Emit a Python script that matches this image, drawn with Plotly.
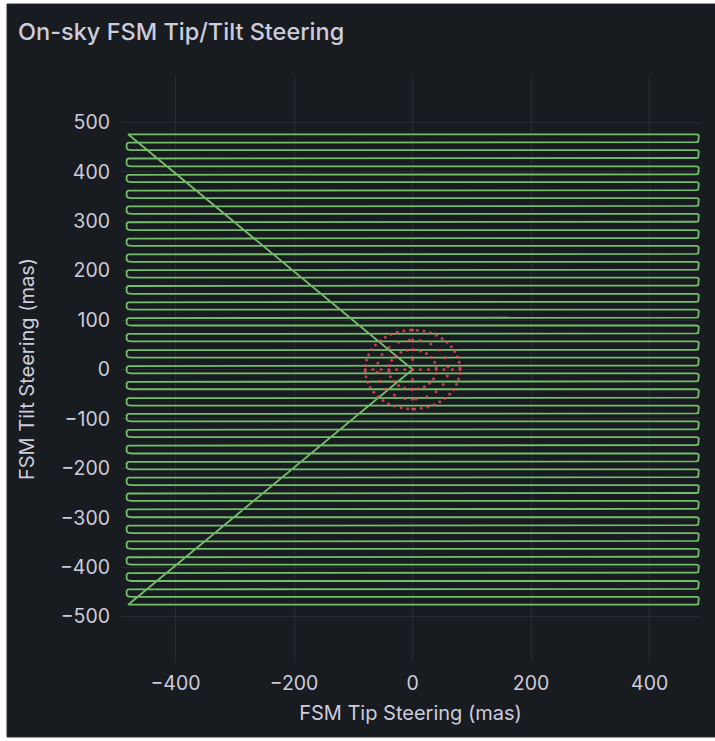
import math
import plotly.graph_objects as go

# Raster scan rows of the FSM steering pattern (tilt, mas), top to bottom
scan_rows = [476, 460, 444, 428, 411, 395, 379, 363, 347, 331,
             315, 299, 282, 266, 250, 234, 218, 202, 186, 170,
             153, 137, 121, 105, 89, 73, 57, 40, 24, 8,
             -8, -24, -40, -57, -73, -89, -105, -121, -137, -153,
             -170, -186, -202, -218, -234, -250, -266, -282, -299, -315,
             -331, -347, -363, -379, -395, -411, -428, -444, -460, -476]
scan_left = -483      # tip at the left turnarounds (mas)
scan_right = 483      # tip at the right turnarounds (mas)
scan_start_tip = -480 # tip where the slews from centre meet the raster
centre = (0, 0)

# Calibration target around the centre: dotted rings and a dotted cross
ring_radii = [40, 60, 80]
ring_points = [22, 20, 44]
cross_tip = [-80, -67, -53, -40, -27, -13, 0, 13, 27, 40, 53, 67, 80]
cross_tilt = [-80, -60, -40, -20, 0, 20, 40, 60, 80]

GREEN = "#73BF69"
RED = "#F2495C"
TEXT = "#ccccdc"
PANEL = "#181b1f"
GRID = "rgba(204,204,220,0.09)"

# Build the steering path: slew out, serpentine raster, slew back
px, py = [centre[0], scan_start_tip], [centre[1], scan_rows[0]]
r_round = 4   # rounding of the right turnarounds
l_round = 9   # rounding of the left turnarounds
for i, y in enumerate(scan_rows):
    going_right = (i % 2 == 0)
    if going_right:
        px.append(scan_right - r_round); py.append(y)
    else:
        px.append(scan_left + l_round); py.append(y)
    if i + 1 < len(scan_rows):
        yn = scan_rows[i + 1]
        if going_right:
            px += [scan_right - 1, scan_right, scan_right, scan_right - 1, scan_right - r_round]
            py += [y - 1, y - 3, yn + 3, yn + 1, yn]
        else:
            px += [scan_left + 3, scan_left + 0.5, scan_left, scan_left + 0.5, scan_left + 3, scan_left + l_round]
            py += [y - 1, y - 4, (y + yn) / 2, yn + 4, yn + 1, yn]
px += [scan_start_tip, centre[0]]
py += [scan_rows[-1], centre[1]]

# Target dots
tx, ty = [], []
for r, n in zip(ring_radii, ring_points):
    for k in range(n):
        a = 2 * math.pi * (k + 0.3) / n
        tx.append(r * math.cos(a)); ty.append(r * math.sin(a))
for t in cross_tip:
    tx.append(t); ty.append(0)
for t in cross_tilt:
    tx.append(0); ty.append(t)

fig = go.Figure()
fig.add_trace(go.Scatter(x=px, y=py, mode="lines",
                         line=dict(color=GREEN, width=1.8),
                         hoverinfo="skip", showlegend=False))
fig.add_trace(go.Scatter(x=tx, y=ty, mode="markers",
                         marker=dict(color=RED, size=3, opacity=0.8),
                         hoverinfo="skip", showlegend=False))

# Panel background with thin border on a white page
fig.add_shape(type="rect", xref="paper", yref="paper",
              x0=-114 / 579, x1=1.1, y0=-74 / 588, y1=1 + 71 / 588,
              fillcolor=PANEL, line=dict(color="#2c2f35", width=1), layer="below")

fig.update_layout(
    width=715, height=741,
    margin=dict(l=121, r=15, t=75, b=78),
    paper_bgcolor="white",
    plot_bgcolor=PANEL,
    font=dict(family="Inter, sans-serif", color=TEXT),
    title=dict(text="On-sky FSM Tip/Tilt Steering", x=18 / 715, xanchor="left",
               y=1 - 32 / 741, yanchor="middle",
               font=dict(size=23.5, color=TEXT, family="Inter, sans-serif", weight=500)),
    xaxis=dict(range=[-492, 485], tickvals=[-400, -200, 0, 200, 400],
               showgrid=True, gridcolor=GRID, gridwidth=1, zeroline=False,
               showline=False, ticks="", tickfont=dict(size=19.5, color=TEXT),
               ticklabelstandoff=6,
               title=dict(text="FSM Tip Steering (mas)", font=dict(size=20, color=TEXT),
                          standoff=12)),
    yaxis=dict(range=[-594, 596], tickvals=[-500, -400, -300, -200, -100, 0, 100, 200, 300, 400, 500],
               showgrid=True, gridcolor=GRID, gridwidth=1, zeroline=False,
               showline=False, ticks="", tickfont=dict(size=19.5, color=TEXT),
               ticklabelstandoff=10,
               title=dict(text="FSM Tilt Steering (mas)", font=dict(size=20, color=TEXT),
                          standoff=19)),
)

fig.write_html("out.html")
